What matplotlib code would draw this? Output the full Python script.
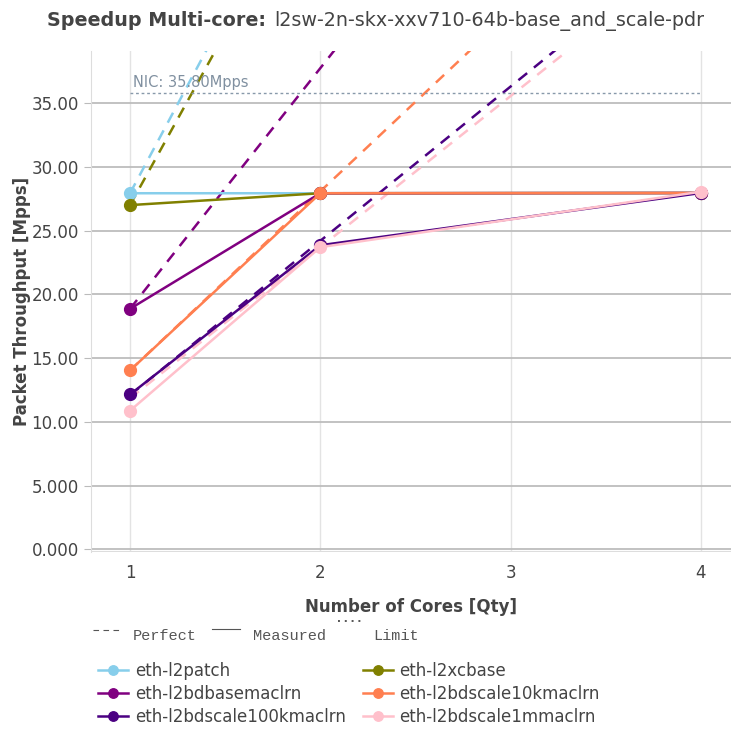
import matplotlib
matplotlib.use("Agg")
import matplotlib.pyplot as plt
from matplotlib.lines import Line2D

# data
cores = [1, 2, 4]
names = ["eth-l2patch", "eth-l2xcbase", "eth-l2bdbasemaclrn",
         "eth-l2bdscale10kmaclrn", "eth-l2bdscale100kmaclrn", "eth-l2bdscale1mmaclrn"]
colors = ["#87CEEB", "#808000", "#800080", "#FF7F50", "#4B0082", "#FFC0CB"]
measured = [
    [27.93, 27.93, 27.95],
    [27.00, 27.93, 27.95],
    [18.87, 27.93, 27.95],
    [14.04, 27.93, 27.95],
    [12.15, 23.85, 27.95],
    [10.88, 23.70, 28.05],
]
perfect = [
    [27.93, 55.86, 111.7],
    [27.00, 54.00, 108.0],
    [18.87, 37.74, 75.48],
    [14.04, 28.08, 56.16],
    [12.10, 24.20, 48.40],
    [11.85, 23.70, 47.40],
]
nic_limit = 35.8
yticks = [0, 5, 10, 15, 20, 25, 30, 35]
ytick_labels = ["0.000", "5.000", "10.00", "15.00", "20.00", "25.00", "30.00", "35.00"]

text_col = "#444444"
W, H = 731, 736
fig = plt.figure(figsize=(W / 100, H / 100), dpi=100)
ax = fig.add_axes([0.124, 0.25, 0.876, 0.681])

for i in range(len(names)):
    ax.plot(cores, perfect[i], color=colors[i], lw=1.8, dashes=(4.5, 3.5), zorder=2)
for i in range(len(names)):
    ax.plot(cores, measured[i], color=colors[i], lw=1.8, marker="o", ms=8.5,
            zorder=3, label=names[i])

ax.plot([1, 4], [nic_limit, nic_limit], color="#8899aa", lw=1.0, ls=(0, (2, 2)), zorder=2)
ax.text(1.015, nic_limit + 0.2, "NIC: 35.80Mpps", color="#8090a0", fontsize=10.5,
        va="bottom", ha="left")

ax.set_xlim(0.793, 4.158)
ax.set_ylim(-0.2, 39.1)
ax.set_xticks([1, 2, 3, 4])
ax.set_xticklabels(["1", "2", "3", "4"])
ax.set_yticks(yticks)
ax.set_yticklabels(ytick_labels)
ax.tick_params(colors=text_col, labelsize=12, length=5, color="#bbbbbb")
ax.tick_params(axis="x", length=0, pad=9)
for s in ["top", "right", "bottom"]:
    ax.spines[s].set_visible(False)
ax.spines["left"].set_color("#dddddd")
ax.grid(axis="x", color="#e3e3e3", lw=1)
ax.grid(axis="y", color="#bdbdbd", lw=1.3)
ax.axhline(-0.2, color="#dddddd", lw=1.5, zorder=1)
ax.set_axisbelow(True)

ax.set_xlabel("Number of Cores [Qty]", fontsize=12, fontweight="bold", color=text_col, labelpad=11)
ax.set_ylabel("Packet Throughput [Mpps]", fontsize=12, fontweight="bold", color=text_col, labelpad=0)

# title: bold part + normal part, fitted to the reference width
r = fig.canvas.get_renderer()
t1 = fig.text(0, 0.972, "Speedup Multi-core:", fontsize=13, fontweight="bold", color=text_col, va="center")
t2 = fig.text(0, 0.972, "l2sw-2n-skx-xxv710-64b-base_and_scale-pdr", fontsize=13, color=text_col, va="center")
w1 = t1.get_window_extent(r).width
w2 = t2.get_window_extent(r).width
scale = 648 / (w1 + w2)
t1.set_fontsize(13 * scale)
t2.set_fontsize(13 * scale)
w1 = t1.get_window_extent(r).width
t1.set_x(47 / W)
t2.set_x((47 + w1 + 8) / W)

# style legend drawn by hand
mono = {"family": "Liberation Mono", "size": 11, "color": "#555555"}
ly = 1 - 636 / H
fig.add_artist(Line2D([93 / W, 121 / W], [ly + 0.008] * 2, transform=fig.transFigure,
                      color="#555555", lw=0.8, dashes=(5, 4)))
fig.text(133 / W, ly, "Perfect", va="center", **mono)
fig.add_artist(Line2D([212 / W, 240 / W], [ly + 0.010] * 2, transform=fig.transFigure,
                      color="#555555", lw=0.8))
fig.text(253 / W, ly, "Measured", va="center", **mono)
fig.add_artist(Line2D([338 / W, 362 / W], [ly + 0.020] * 2, transform=fig.transFigure,
                      color="#555555", lw=1.4, ls=(0, (1, 2.5))))
fig.text(373 / W, ly, "Limit", va="center", **mono)

h, l = ax.get_legend_handles_labels()
order = [0, 2, 4, 1, 3, 5]
fig.legend([h[k] for k in order], [l[k] for k in order], ncol=2, loc="upper left",
           bbox_to_anchor=(0.114, 0.121), frameon=False, fontsize=12, labelcolor=text_col,
           handlelength=1.8, handletextpad=0.4, columnspacing=1.0, labelspacing=0.3,
           markerscale=0.8)

fig.savefig("out.png", dpi=100)
